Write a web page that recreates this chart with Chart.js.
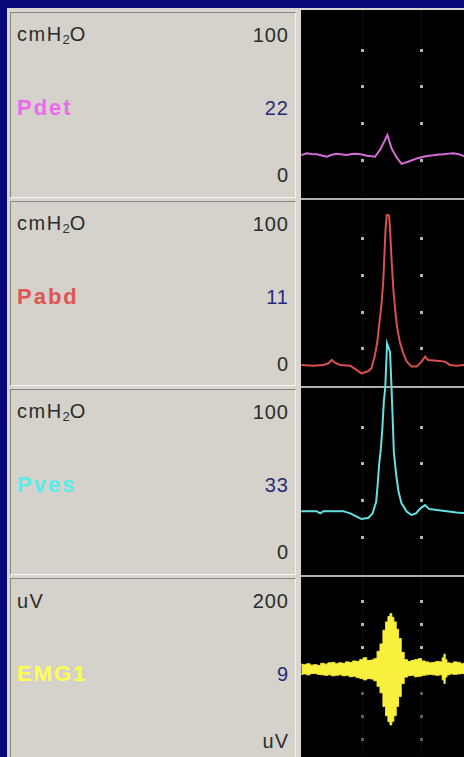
<!DOCTYPE html>
<html>
<head>
<meta charset="utf-8">
<script src="https://cdn.jsdelivr.net/npm/chart.js@4.4.1/dist/chart.umd.min.js"></script>
<style>
  html, body { margin: 0; padding: 0; width: 464px; height: 757px; overflow: hidden; background: #08087a; }
  #frame { position: absolute; left: 7px; top: 8px; width: 457px; height: 760px; background: #d8d6ce; }
  .panel { position: absolute; left: 10px; width: 286px; box-sizing: border-box;
           background: #d4d2ca; border-top: 1px solid #86857f; border-left: 1px solid #86857f;
           border-right: 1px solid #f4f4f0; border-bottom: 1px solid #f4f4f0; }
  .t { position: absolute; transform: translateY(-50%); white-space: nowrap; line-height: 1;
       font-family: "Liberation Sans", Arial, sans-serif; }
  .unit { left: 17px; font-size: 20px; letter-spacing: 1.5px; color: #2c2c2c; }
  .unit sub { font-size: 13px; vertical-align: -3px; letter-spacing: 0; }
  .top, .bottom { right: 175px; font-size: 20px; letter-spacing: 1px; color: #2c2c2c; }
  .name { left: 17px; font-size: 22px; font-weight: bold; letter-spacing: 2px; }
  .readout { right: 175px; font-size: 20px; letter-spacing: 1px; color: #2a2a78; }
  #trace { position: absolute; left: 301px; top: 10px; background: #000; }
</style>
</head>
<body>
<div id="frame"></div>
<div id="labels"></div>
<canvas id="trace" width="163" height="754"></canvas>
<script>
// Channel panel text
const channelNames   = ['Pdet', 'Pabd', 'Pves', 'EMG1'];
const channelUnits   = ['cmH<sub>2</sub>O', 'cmH<sub>2</sub>O', 'cmH<sub>2</sub>O', 'uV'];
const scaleTopLabels = ['100', '100', '100', '200'];
const scaleLowLabels = ['0', '0', '0', 'uV'];
const readouts       = ['22', '11', '33', '9'];
const channelColors  = ['#ee68ee', '#e05454', '#58ecec', '#ffff50'];
const traceColors    = ['#d46cd8', '#d85050', '#62e2e2', '#f8f03c'];

// Time axis (s) and grid marks
const timeGridTicks = [10, 20];
const pressureGridTicks = [20, 40, 60, 80];
const emgGridTicks = [150, 100, 50, -50, -100, -150];

// Pdet, cmH2O
const pdetTime   = [-0.3, 0.6, 1.5, 2.3, 3.2, 4.0, 4.9, 5.7, 6.6, 7.4, 8.3, 9.1, 10.0, 10.8, 11.6, 12.2, 13.05, 13.7, 14.3, 15.0, 15.8, 16.7, 17.8, 19.3, 20.4, 21.3, 22.1, 23.0, 23.8, 24.7, 25.5, 26.4, 27.3];
const pdetValues = [22.6, 23.6, 23.2, 23.0, 22.4, 21.7, 22.8, 23.3, 22.9, 22.6, 23.2, 23.3, 22.9, 22.3, 22.0, 21.7, 25.4, 29.5, 33.5, 26.4, 21.7, 17.8, 19.0, 20.8, 21.7, 22.3, 22.5, 22.9, 23.0, 23.4, 23.6, 23.1, 22];

// Pabd, cmH2O
const pabdTime   = [-0.3, 1.75, 3.45, 4.3, 4.85, 5.4, 6.3, 8.0, 9.1, 9.9, 11.1, 11.6, 12.2, 12.6, 12.9, 13.3, 13.6, 13.8, 14.0, 14.2, 14.6, 14.75, 15.0, 15.3, 15.6, 15.9, 16.4, 17.0, 17.6, 18.4, 19.3, 20.1, 20.7, 21.2, 22.7, 24.1, 24.9, 26.05, 27.3];
const pabdValues = [11.0, 10.6, 11.0, 11.9, 13.7, 12.2, 11.0, 10.6, 8.2, 6.4, 7.7, 9.2, 16.4, 23.6, 32.7, 43.6, 56.3, 70.8, 85.3, 92.5, 92.2, 85.3, 69.0, 52.7, 41.8, 32.7, 23.6, 17.3, 12.8, 10.1, 10.1, 12.8, 15.5, 13.7, 13.3, 12.8, 11.0, 10.6, 11];

// Pves, cmH2O (its peak runs above the channel's own range)
const pvesTime   = [-0.3, 2.3, 2.9, 3.45, 6.8, 8.0, 9.1, 9.9, 11.1, 11.8, 12.4, 12.65, 12.9, 13.2, 13.45, 13.7, 13.95, 14.25, 14.5, 14.75, 15.0, 15.2, 15.4, 15.8, 16.2, 16.7, 17.6, 18.4, 19.15, 19.9, 20.7, 21.4, 22.7, 24.35, 26.05, 27.3];
const pvesValues = [34.0, 34.0, 32.8, 34.0, 34.0, 32.8, 31.0, 29.7, 30.4, 32.8, 39.1, 48.2, 59.1, 68.1, 79.0, 93.5, 101.6, 125.2, 123.0, 120.6, 101.6, 84.4, 66.3, 53.6, 44.5, 38.2, 33.7, 31.9, 32.8, 35.5, 37.3, 35.1, 34.6, 34.0, 33.3, 33];

// EMG1 envelope, uV
const emgTime  = [-0.3, 0.3, 0.9, 1.5, 2.1, 2.7, 3.3, 3.9, 4.5, 5.1, 5.7, 6.3, 6.9, 7.5, 8.1, 8.7, 9.3, 9.9, 10.5, 11.1, 11.7, 12.3, 12.8, 13.3, 13.8, 14.2, 14.6, 14.9, 15.2, 15.6, 16.0, 16.4, 16.9, 17.4, 18.0, 18.6, 19.2, 19.8, 20.4, 21.0, 21.6, 22.2, 22.8, 23.4, 23.8, 24.0, 24.2, 24.6, 25.2, 25.8, 26.4, 27.0, 27.4];
const emgUpper = [12, 11, 13, 10, 11, 9, 14, 12, 15, 16, 13, 15, 14, 17, 16, 19, 18, 22, 26, 20, 21, 24, 40, 56, 86, 104, 116, 122, 114, 104, 88, 68, 38, 22, 18, 20, 22, 24, 19, 17, 15, 16, 18, 17, 26, 34, 22, 15, 14, 17, 16, 13, 14];
const emgLower = [-10, -9, -11, -8, -8, -10, -11, -12, -11, -13, -12, -11, -13, -12, -15, -14, -17, -19, -22, -19, -20, -24, -36, -50, -80, -100, -113, -120, -112, -100, -80, -58, -30, -16, -13, -12, -15, -14, -12, -11, -10, -11, -12, -11, -22, -30, -16, -11, -9, -10, -9, -8, -9];

const toPoints = (times, values) => times.map((t, i) => ({ x: t, y: values[i] }));

// Panel layout: four rows matching the canvas rows
const rowHeight = 188.5;
const canvasTop = 10;
const labels = document.getElementById('labels');
channelNames.forEach((name, i) => {
  const rowTop = canvasTop + i * rowHeight;
  const panel = document.createElement('div');
  panel.className = 'panel';
  panel.style.top = (rowTop + 2) + 'px';
  panel.style.height = (rowHeight - 3) + 'px';
  labels.appendChild(panel);
  const add = (cls, html, y, color) => {
    const s = document.createElement('span');
    s.className = 't ' + cls;
    s.innerHTML = html;
    s.style.top = y + 'px';
    if (color) s.style.color = color;
    labels.appendChild(s);
  };
  add('unit', channelUnits[i], rowTop + 25);
  add('top', scaleTopLabels[i], rowTop + 25);
  add('name', name, rowTop + 98, channelColors[i]);
  add('readout', readouts[i], rowTop + 98);
  add('bottom', scaleLowLabels[i], rowTop + 165);
});

const rowAxes = ['yPdet', 'yPabd', 'yPves', 'yEmg'];

// Dotted time grid, bright grid marks and row separators
const scopeGrid = {
  id: 'scopeGrid',
  beforeDatasetsDraw(chart) {
    const { ctx, scales, chartArea } = chart;
    const xs = scales.x;
    ctx.save();
    ctx.strokeStyle = 'rgba(110,110,110,0.4)';
    ctx.lineWidth = 1;
    ctx.setLineDash([1, 3]);
    timeGridTicks.forEach(t => {
      const px = Math.round(xs.getPixelForValue(t)) + 0.5;
      ctx.beginPath();
      ctx.moveTo(px, chartArea.top);
      ctx.lineTo(px, chartArea.bottom);
      ctx.stroke();
    });
    ctx.setLineDash([]);
    rowAxes.forEach((id, r) => {
      const s = scales[id];
      const ticks = id === 'yEmg' ? emgGridTicks : pressureGridTicks;
      ticks.forEach(v => {
        const py = Math.round(s.getPixelForValue(v));
        ctx.fillStyle = (id === 'yEmg' && v < 0) ? 'rgba(170,170,170,0.55)' : '#b4b4b4';
        timeGridTicks.forEach(t => {
          const px = Math.round(xs.getPixelForValue(t));
          ctx.fillRect(px - 1, py - 1, 3, 3);
        });
      });
      if (r < rowAxes.length - 1) {
        ctx.fillStyle = '#b0b0b0';
        ctx.fillRect(chartArea.left, Math.round(s.bottom) - 1, chartArea.right - chartArea.left, 2);
      }
    });
    ctx.restore();
  }
};

const rowAxis = (weight, min, max) => ({
  type: 'linear', position: 'right', stack: 'rows', stackWeight: 1, weight,
  min, max, display: true,
  ticks: { display: false }, grid: { display: false, drawTicks: false }, border: { display: false }
});

new Chart(document.getElementById('trace'), {
  type: 'line',
  data: {
    datasets: [
      { label: 'Pdet', data: toPoints(pdetTime, pdetValues), yAxisID: 'yPdet',
        borderColor: traceColors[0], borderWidth: 2, pointRadius: 0, tension: 0 },
      { label: 'Pabd', data: toPoints(pabdTime, pabdValues), yAxisID: 'yPabd',
        borderColor: traceColors[1], borderWidth: 2, pointRadius: 0, tension: 0 },
      { label: 'Pves', data: toPoints(pvesTime, pvesValues), yAxisID: 'yPves',
        borderColor: traceColors[2], borderWidth: 2, pointRadius: 0, tension: 0, clip: false },
      { label: 'EMG1', data: toPoints(emgTime, emgUpper), yAxisID: 'yEmg',
        borderColor: traceColors[3], backgroundColor: traceColors[3], borderWidth: 1,
        pointRadius: 0, fill: '+1', stepped: 'middle' },
      { label: 'EMG1 low', data: toPoints(emgTime, emgLower), yAxisID: 'yEmg',
        borderColor: traceColors[3], borderWidth: 1, pointRadius: 0, fill: false, stepped: 'middle' }
    ]
  },
  options: {
    responsive: false, animation: false, maintainAspectRatio: false,
    layout: { padding: 0, autoPadding: false },
    plugins: { legend: { display: false }, tooltip: { enabled: false } },
    scales: {
      x: { type: 'linear', min: -0.35, max: 27.3, display: false },
      yPdet: rowAxis(1, -1, 101.5),
      yPabd: rowAxis(2, -1, 101.5),
      yPves: rowAxis(3, -1, 101.5),
      yEmg: rowAxis(4, -205, 205)
    }
  },
  plugins: [scopeGrid]
});
</script>
</body>
</html>
